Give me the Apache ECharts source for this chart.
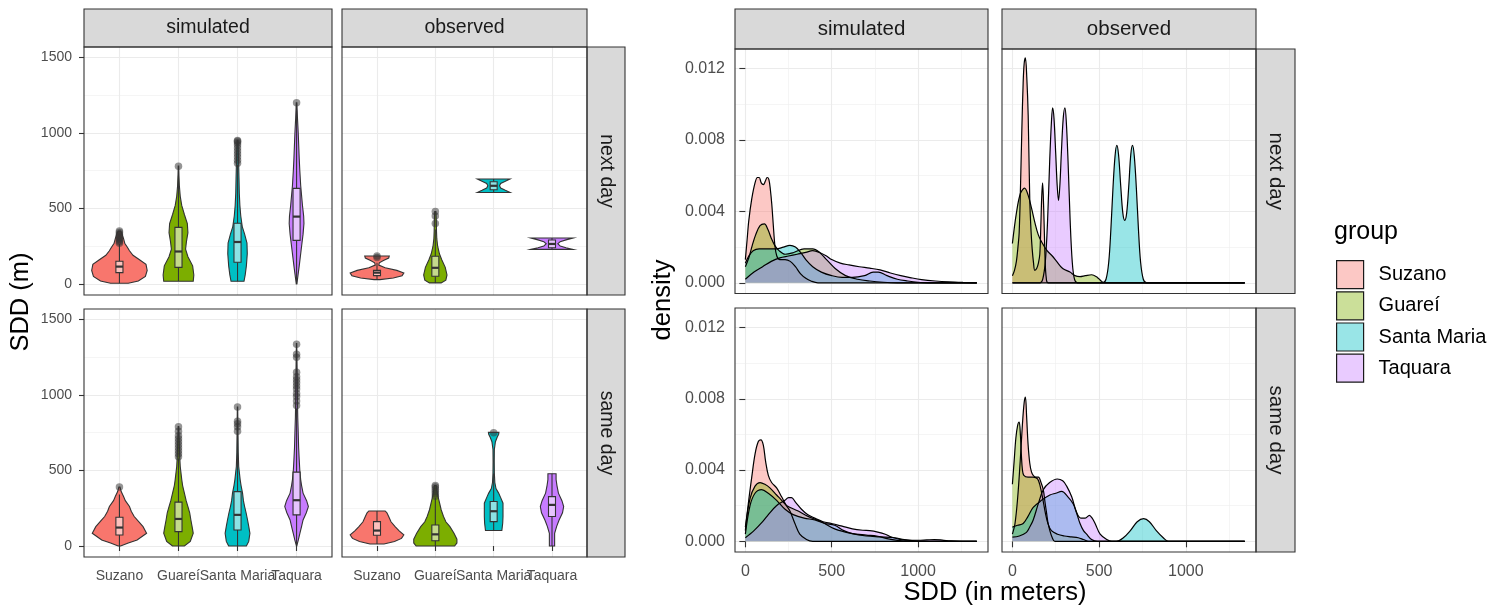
<!DOCTYPE html>
<html><head><meta charset="utf-8">
<script src="https://cdn.jsdelivr.net/npm/echarts@6/dist/echarts.min.js"></script>
<style>html,body{margin:0;padding:0;background:#fff}#c{width:1502px;height:612px}</style>
</head><body><div id="c"></div>
<script>
const FONT = '"Liberation Sans", Arial, Helvetica, sans-serif';

// ---------------- data ----------------
const groups = ['Suzano', 'Guareí', 'Santa Maria', 'Taquara'];
const catPos = [1, 2, 3, 4];
const catLabelsA = [1, 3];
const catLabelsB = [2, 4];
const violinYTicks = [0, 500, 1000, 1500];
const violinYMinor = [250, 750, 1250];
const densXTicks = [0, 500, 1000];
const densXMinor = [250, 750, 1250];
const densYTicks = [0, 0.004, 0.008, 0.012];
const densYMinor = [0.002, 0.006, 0.010];

// violin profiles: [SDD, half-width in category units], per group
const violinSimNext = [
  [[5,0.15],[20,0.32],[50,0.44],[90,0.47],[130,0.45],[160,0.34],[190,0.23],[220,0.17],[240,0.14],[270,0.09],[300,0.07],[330,0.045],[350,0.02]],
  [[18,0.25],[60,0.26],[120,0.24],[180,0.16],[230,0.12],[280,0.135],[340,0.16],[400,0.15],[460,0.1],[520,0.055],[580,0.03],[650,0.015],[720,0.008],[780,0.004]],
  [[18,0.11],[60,0.13],[120,0.15],[200,0.165],[270,0.16],[330,0.12],[380,0.08],[450,0.055],[520,0.04],[600,0.03],[700,0.025],[780,0.02],[860,0.015],[950,0.008]],
  [[0,0.005],[60,0.025],[120,0.045],[250,0.085],[330,0.11],[400,0.125],[450,0.12],[520,0.1],[650,0.07],[750,0.055],[830,0.045],[1000,0.028],[1100,0.015],[1200,0.005]]
];
const boxSimNext = [[5,75,115,150,265],[20,110,215,375,720],[18,144,278,402,790],[0,289,446,633,1150]];
const outSimNext = [[270,280,290,300,310,320,330,340,350],[780],[800,820,840,860,880,900,920,935,945,950],[1200]];

const violinObsNext = [
  [[29,0.05],[40,0.28],[55,0.43],[72,0.46],[90,0.34],[108,0.14],[125,0.03],[140,0.04],[155,0.11],[172,0.2],[185,0.21]],
  [[7,0.1],[25,0.18],[60,0.2],[110,0.17],[160,0.11],[200,0.07],[250,0.04],[300,0.025],[350,0.02],[400,0.018],[440,0.015],[480,0.01]],
  [[606,0.28],[620,0.2],[635,0.12],[650,0.1],[665,0.12],[680,0.2],[695,0.28]],
  [[229,0.36],[240,0.24],[252,0.14],[266,0.1],[280,0.14],[292,0.24],[304,0.36]]
];
const boxObsNext = [[29,55,75,90,140],[7,51,107,184,360],[606,624,650,677,695],[229,240,265,291,304]];
const outObsNext = [[175,185],[400,450,480],[],[]];

const violinSimSame = [
  [[0,0.02],[20,0.15],[40,0.3],[84,0.46],[128,0.4],[160,0.33],[195,0.25],[230,0.2],[261,0.17],[300,0.1],[327,0.07],[360,0.03],[390,0.01]],
  [[0,0.1],[30,0.2],[84,0.25],[130,0.23],[172,0.21],[220,0.19],[261,0.16],[300,0.13],[350,0.1],[400,0.07],[438,0.056],[526,0.03],[600,0.02],[700,0.012],[790,0.005]],
  [[0,0.15],[30,0.19],[84,0.21],[130,0.19],[172,0.17],[220,0.145],[261,0.12],[300,0.1],[350,0.085],[400,0.06],[438,0.045],[526,0.02],[620,0.012],[740,0.008],[820,0.006],[920,0.003]],
  [[0,0.003],[40,0.03],[84,0.056],[130,0.085],[172,0.11],[220,0.165],[261,0.2],[300,0.17],[350,0.11],[400,0.085],[438,0.07],[500,0.055],[570,0.045],[650,0.035],[750,0.028],[850,0.02],[970,0.015],[1100,0.012],[1200,0.008],[1340,0.003]]
];
const boxSimSame = [[0,73,122,190,340],[0,95,179,290,580],[0,106,206,360,740],[0,206,303,489,910]];
const outSimSame = [[390],[590,610,630,650,670,690,710,730,760,790],[760,790,810,825,920],[930,960,990,1010,1040,1060,1080,1100,1120,1150,1250,1270,1335]];

const violinObsSame = [
  [[13,0.12],[30,0.3],[50,0.42],[73,0.46],[100,0.38],[128,0.31],[160,0.24],[195,0.2],[220,0.17],[232,0.14]],
  [[0,0.33],[20,0.37],[45,0.37],[84,0.32],[128,0.25],[160,0.18],[195,0.14],[240,0.1],[305,0.06],[350,0.035],[400,0.015]],
  [[102,0.14],[150,0.155],[195,0.16],[240,0.16],[283,0.16],[320,0.12],[350,0.085],[380,0.04],[420,0.02],[480,0.012],[560,0.01],[640,0.012],[690,0.03],[720,0.06],[740,0.085],[752,0.09]],
  [[0,0.045],[84,0.045],[130,0.08],[170,0.12],[220,0.18],[261,0.2],[300,0.17],[350,0.11],[400,0.085],[440,0.07],[478,0.07]]
];
const boxObsSame = [[13,71,102,161,232],[0,35,77,139,320],[102,161,230,294,480],[0,195,272,327,478]];
const outObsSame = [[],[330,345,360,375,390,400],[750],[]];

// density curves: [SDD, density], per group
const densSimNext = [
  [[0,0.0013],[10,0.0024],[20,0.0035],[37,0.0047],[56,0.0056],[70,0.0059],[80,0.0059],[92,0.0056],[104,0.0055],[116,0.0057],[126,0.0059],[136,0.0058],[145,0.0052],[153,0.0044],[162,0.0032],[171,0.0021],[182,0.0015],[200,0.0013],[230,0.0013],[260,0.0012],[290,0.0009],[320,0.0005],[350,0.00025],[380,0.0001],[420,0],[1340,0]],
  [[0,0.0009],[20,0.0014],[40,0.0021],[60,0.0027],[85,0.0032],[110,0.0033],[130,0.003],[150,0.0025],[170,0.0021],[195,0.0018],[230,0.0016],[280,0.0017],[340,0.0019],[390,0.0019],[430,0.0017],[470,0.0013],[520,0.0008],[580,0.0004],[650,0.0002],[720,0.0001],[800,0.00003],[880,0],[1340,0]],
  [[0,0.0011],[20,0.0015],[45,0.0018],[80,0.0019],[130,0.0019],[180,0.0019],[220,0.002],[258,0.0021],[290,0.002],[320,0.0017],[350,0.0013],[390,0.0009],[440,0.0006],[500,0.0004],[560,0.0003],[620,0.0003],[690,0.0004],[740,0.0006],[770,0.0006],[820,0.0004],[880,0.0002],[940,0.0001],[1000,0.00003],[1060,0],[1340,0]],
  [[0,0.0002],[50,0.0006],[100,0.0009],[150,0.0012],[200,0.0014],[250,0.0015],[300,0.0016],[350,0.0017],[390,0.0018],[430,0.0017],[470,0.0015],[500,0.0013],[550,0.0011],[600,0.001],[660,0.0009],[720,0.00082],[780,0.00072],[840,0.00055],[900,0.0004],[960,0.00028],[1020,0.00018],[1100,0.0001],[1180,0.00005],[1260,0.00002],[1340,0]]
];
const densObsNext = [
  [[0,0.0004],[12,0.0007],[23,0.0012],[32,0.002],[39,0.0028],[47,0.0055],[54,0.0084],[62,0.0112],[68,0.0123],[75,0.0126],[83,0.0115],[91,0.0094],[100,0.0047],[107,0.003],[114,0.0019],[122,0.0011],[129,0.0007],[140,0.0008],[150,0.0011],[158,0.0016],[164,0.0032],[169,0.0048],[174,0.0056],[178,0.0049],[183,0.0033],[189,0.0012],[195,0.0003],[205,0],[1340,0]],
  [[0,0.0022],[23,0.0039],[46,0.005],[70,0.0053],[91,0.0049],[110,0.0042],[129,0.0034],[149,0.0027],[168,0.0023],[200,0.0018],[230,0.0015],[255,0.0012],[290,0.0008],[332,0.0006],[361,0.0004],[390,0.00035],[420,0.0004],[457,0.00045],[490,0.0003],[510,0.00012],[530,0],[1340,0]],
  [[0,0],[520,0],[540,0.0002],[556,0.0012],[568,0.003],[580,0.0053],[592,0.0071],[602,0.0077],[612,0.0072],[625,0.0054],[637,0.0039],[648,0.0035],[659,0.0039],[671,0.0054],[683,0.0072],[693,0.0077],[703,0.0071],[715,0.0053],[727,0.003],[739,0.0012],[755,0.0002],[775,0],[1340,0]],
  [[0,0],[160,0],[175,0.0002],[190,0.0012],[203,0.0035],[215,0.0068],[225,0.009],[232,0.0098],[240,0.0092],[250,0.0072],[258,0.0055],[266,0.0046],[274,0.0055],[282,0.0072],[293,0.0092],[303,0.0098],[311,0.009],[321,0.0068],[333,0.0035],[345,0.0012],[358,0.0002],[375,0],[1340,0]]
];
const densSimSame = [
  [[0,0.0006],[17,0.0021],[37,0.0036],[56,0.0049],[75,0.0056],[90,0.0057],[104,0.0054],[117,0.0045],[133,0.0037],[152,0.0033],[181,0.003],[210,0.0025],[238,0.002],[258,0.0017],[287,0.001],[315,0.0004],[354,0.0001],[390,0],[1340,0]],
  [[0,0.0008],[27,0.0024],[56,0.0031],[85,0.0033],[113,0.0032],[142,0.003],[181,0.0026],[210,0.0023],[240,0.002],[306,0.0017],[363,0.0014],[440,0.0011],[517,0.0007],[613,0.00045],[700,0.00035],[760,0.0003],[820,0.00015],[880,0.00005],[950,0],[1340,0]],
  [[0,0.0004],[27,0.002],[56,0.0027],[94,0.0029],[133,0.0027],[181,0.0023],[230,0.0018],[277,0.0015],[340,0.0013],[402,0.0012],[460,0.001],[517,0.0009],[570,0.0006],[613,0.00045],[700,0.0003],[780,0.00025],[863,0.0002],[920,0.0001],[980,0.00003],[1040,0],[1340,0]],
  [[0,0.0002],[50,0.0006],[100,0.0011],[133,0.0015],[180,0.002],[229,0.0023],[250,0.00245],[267,0.00245],[290,0.0022],[325,0.0018],[360,0.0015],[402,0.0013],[450,0.0011],[498,0.001],[560,0.00085],[620,0.0007],[680,0.00062],[720,0.0006],[767,0.00052],[810,0.0004],[845,0.00024],[900,0.0001],[960,0.00006],[1000,0.00006],[1050,0.00008],[1094,0.0001],[1140,0.00007],[1190,0.00002],[1250,0],[1340,0]]
];
const densObsSame = [
  [[0,0.0004],[15,0.001],[30,0.0024],[45,0.0045],[58,0.0066],[68,0.0078],[75,0.0081],[82,0.007],[90,0.0055],[100,0.0044],[110,0.0039],[120,0.0037],[135,0.0036],[150,0.0036],[165,0.0033],[178,0.0029],[188,0.0022],[197,0.0016],[206,0.001],[216,0.0006],[230,0.0002],[245,0],[1340,0]],
  [[0,0.0032],[10,0.0045],[20,0.0058],[30,0.0065],[39,0.0067],[46,0.006],[52,0.0048],[58,0.004],[66,0.0037],[90,0.0036],[120,0.0036],[145,0.0035],[160,0.0031],[175,0.0024],[190,0.0016],[205,0.001],[225,0.0006],[260,0.0004],[300,0.0003],[340,0.00025],[380,0.0002],[410,0.0001],[440,0],[1340,0]],
  [[0,0.0008],[30,0.0009],[62,0.001],[90,0.0014],[120,0.0019],[168,0.0023],[216,0.0026],[250,0.0027],[284,0.0028],[320,0.0025],[351,0.0021],[370,0.0016],[390,0.001],[410,0.0006],[428,0.0004],[457,0.0001],[490,0],[600,0],[640,0.0002],[680,0.0006],[720,0.0011],[757,0.00127],[790,0.0011],[830,0.0006],[870,0.0002],[900,0],[1340,0]],
  [[0,0.00024],[40,0.0003],[81,0.0005],[100,0.0008],[120,0.0012],[149,0.0021],[178,0.0029],[215,0.0033],[259,0.0035],[290,0.0034],[313,0.0031],[342,0.0025],[371,0.0016],[395,0.0013],[420,0.0013],[444,0.00146],[460,0.0013],[477,0.001],[506,0.0004],[544,0.0001],[573,0],[1340,0]]
];

// ---------------- styles / layout ----------------
const colors = ['#F8766D', '#7CAE00', '#00BFC4', '#C77CFF'];
const colorsA = ['rgba(248,118,109,0.4)', 'rgba(124,174,0,0.4)', 'rgba(0,191,196,0.4)', 'rgba(199,124,255,0.4)'];
const vRangeX = [0.4, 4.6], vRangeY = [-73, 1569];
const dRangeX = [-60, 1405], dRangeY = [-0.0006, 0.0131];

const grids = [], xAxes = [], yAxes = [], series = [], graphics = [];

function majorAxis(gi, range, vals, labelVals, show, fmt, fs, margin, tickLen, pos) {
  return {
    gridIndex: gi, type: 'value', min: range[0], max: range[1], position: pos, silent: true,
    axisLine: { show: false },
    axisTick: { show: show, customValues: vals, length: tickLen, lineStyle: { color: '#333', width: 1.1 } },
    axisLabel: { show: show, customValues: labelVals, formatter: fmt, margin: margin, fontSize: fs, color: '#4D4D4D',
      fontFamily: FONT, hideOverlap: false },
    splitLine: { show: true, lineStyle: { color: '#EBEBEB', width: 1.1 } }
  };
}
function minorAxis(gi, range, vals, pos) {
  return {
    gridIndex: gi, type: 'value', min: range[0], max: range[1], position: pos, silent: true,
    axisLine: { show: false },
    axisTick: { show: false, customValues: vals },
    axisLabel: { show: false },
    splitLine: { show: true, lineStyle: { color: '#EEEEEE', width: 0.6 } }
  };
}
function labelAxis(gi, range, labelVals, fmt, fs, margin) {
  return {
    gridIndex: gi, type: 'value', min: range[0], max: range[1], position: 'bottom', offset: 0, silent: true,
    axisLine: { show: false },
    axisTick: { show: false, customValues: labelVals },
    axisLabel: { show: true, customValues: labelVals, formatter: fmt, margin: margin, fontSize: fs, color: '#4D4D4D',
      fontFamily: FONT, hideOverlap: false },
    splitLine: { show: false }
  };
}
function addPanel(box, cfg) {
  const gi = grids.length;
  grids.push({ left: box[0], top: box[1], width: box[2], height: box[3] });
  const xi = xAxes.length;
  xAxes.push(majorAxis(gi, cfg.xr, cfg.xMaj, cfg.xLab || cfg.xMaj, cfg.showX, cfg.xFmt, cfg.fs, cfg.xMargin, cfg.tick, 'bottom'));
  if (cfg.xMin) xAxes.push(minorAxis(gi, cfg.xr, cfg.xMin, 'top'));
  if (cfg.xLab2 && cfg.showX) xAxes.push(labelAxis(gi, cfg.xr, cfg.xLab2, cfg.xFmt, cfg.fs, cfg.xMargin));
  const yi = yAxes.length;
  yAxes.push(majorAxis(gi, cfg.yr, cfg.yMaj, cfg.yMaj, cfg.showY, cfg.yFmt, cfg.fs, cfg.yMargin, cfg.tick, 'left'));
  if (cfg.yMin) yAxes.push(minorAxis(gi, cfg.yr, cfg.yMin, 'right'));
  graphics.push({ type: 'rect', shape: { x: box[0], y: box[1], width: box[2], height: box[3] },
    style: { fill: 'none', stroke: '#333', lineWidth: 1.1 }, z: 100, silent: true });
  return { xi, yi };
}

function makeViolin(prof, box, fill) {
  return function (params, api) {
    const c = api.value(0);
    const pts = [];
    for (let i = 0; i < prof.length; i++) pts.push(api.coord([c - prof[i][1], prof[i][0]]));
    for (let i = prof.length - 1; i >= 0; i--) pts.push(api.coord([c + prof[i][1], prof[i][0]]));
    const bw = 0.06;
    const a = api.coord([c - bw, box[3]]), b = api.coord([c + bw, box[1]]);
    const m1 = api.coord([c - bw, box[2]]), m2 = api.coord([c + bw, box[2]]);
    const w0 = api.coord([c, box[0]]), w1 = api.coord([c, box[1]]);
    const w3 = api.coord([c, box[3]]), w4 = api.coord([c, box[4]]);
    const ls = { stroke: '#333', lineWidth: 1.1 };
    return { type: 'group', children: [
      { type: 'polygon', shape: { points: pts }, style: { fill: fill, stroke: '#333', lineWidth: 1.1 } },
      { type: 'line', shape: { x1: w0[0], y1: w0[1], x2: w1[0], y2: w1[1] }, style: ls },
      { type: 'line', shape: { x1: w3[0], y1: w3[1], x2: w4[0], y2: w4[1] }, style: ls },
      { type: 'rect', shape: { x: a[0], y: a[1], width: b[0] - a[0], height: b[1] - a[1] },
        style: { fill: 'rgba(255,255,255,0.55)', stroke: '#333', lineWidth: 1.1 } },
      { type: 'line', shape: { x1: m1[0], y1: m1[1], x2: m2[0], y2: m2[1] }, style: { stroke: '#333', lineWidth: 2.2 } }
    ] };
  };
}

// violin panels
const vPanels = [
  { box: [84, 47, 248, 248], prof: violinSimNext, st: boxSimNext, out: outSimNext, sx: false, sy: true },
  { box: [342, 47, 245, 248], prof: violinObsNext, st: boxObsNext, out: outObsNext, sx: false, sy: false },
  { box: [84, 309, 248, 248], prof: violinSimSame, st: boxSimSame, out: outSimSame, sx: true, sy: true },
  { box: [342, 309, 245, 248], prof: violinObsSame, st: boxObsSame, out: outObsSame, sx: true, sy: false }
];
vPanels.forEach(p => {
  const ax = addPanel(p.box, {
    xr: vRangeX, yr: vRangeY, xMaj: catPos, xLab: catLabelsA, xLab2: catLabelsB, yMaj: violinYTicks, yMin: violinYMinor,
    showX: p.sx, showY: p.sy, fs: 14, xMargin: 12, yMargin: 12, tick: 5,
    xFmt: v => groups[Math.round(v) - 1], yFmt: v => String(v)
  });
  for (let g = 0; g < 4; g++) {
    series.push({ type: 'custom', xAxisIndex: ax.xi, yAxisIndex: ax.yi, silent: true,
      data: [[catPos[g], p.st[g][2]]], renderItem: makeViolin(p.prof[g], p.st[g], colors[g]) });
    series.push({ type: 'scatter', xAxisIndex: ax.xi, yAxisIndex: ax.yi, silent: true,
      data: p.out[g].map(v => [catPos[g], v]), symbol: 'circle', symbolSize: 7.5,
      itemStyle: { color: 'rgba(51,51,51,0.65)' } });
  }
});

// density panels
const dPanels = [
  { box: [735, 49, 253, 244.5], d: densSimNext, sx: false, sy: true },
  { box: [1002, 49, 254, 244.5], d: densObsNext, sx: false, sy: false },
  { box: [735, 308, 253, 244], d: densSimSame, sx: true, sy: true },
  { box: [1002, 308, 254, 244], d: densObsSame, sx: true, sy: false }
];
dPanels.forEach(p => {
  const ax = addPanel(p.box, {
    xr: dRangeX, yr: dRangeY, xMaj: densXTicks, xMin: densXMinor, yMaj: densYTicks, yMin: densYMinor,
    showX: p.sx, showY: p.sy, fs: 16, xMargin: 12, yMargin: 10, tick: 6,
    xFmt: v => String(v), yFmt: v => v.toFixed(3)
  });
  for (let g = 0; g < 4; g++) {
    series.push({ type: 'line', name: groups[g], xAxisIndex: ax.xi, yAxisIndex: ax.yi, silent: true,
      data: p.d[g], smooth: 0.35, symbol: 'none',
      lineStyle: { color: '#000', width: 1.2 },
      itemStyle: { color: colorsA[g] },
      areaStyle: { color: colorsA[g], opacity: 1 } });
  }
});

// strips
const strips = [
  [84, 9, 248, 38, 'simulated', 19.5, false], [342, 9, 245, 38, 'observed', 19.5, false],
  [587, 47, 38, 248, 'next day', 19.5, true], [587, 309, 38, 248, 'same day', 19.5, true],
  [735, 9, 253, 40, 'simulated', 20.5, false], [1002, 9, 254, 40, 'observed', 20.5, false],
  [1256, 49, 39, 244.5, 'next day', 20.5, true], [1256, 308, 39, 244, 'same day', 20.5, true]
];
strips.forEach(s => {
  graphics.push({ type: 'rect', shape: { x: s[0], y: s[1], width: s[2], height: s[3] },
    style: { fill: '#D9D9D9', stroke: '#333', lineWidth: 1.1 }, z: 90, silent: true });
  graphics.push({ type: 'text', x: s[0] + s[2] / 2, y: s[1] + s[3] / 2, rotation: s[6] ? -Math.PI / 2 : 0, z: 95, silent: true,
    style: { text: s[4], fontSize: s[5], fontFamily: FONT, fill: '#1A1A1A', align: 'center', verticalAlign: 'middle' } });
});
// axis titles + legend title
const titles = [
  ['SDD (m)', 21, 302, Math.PI / 2, 25.5, 'center'],
  ['density', 663, 300, Math.PI / 2, 25.5, 'center'],
  ['SDD (in meters)', 995, 593, 0, 25.5, 'center'],
  ['group', 1334, 232, 0, 25, 'left']
];
titles.forEach(t => {
  graphics.push({ type: 'text', x: t[1], y: t[2], rotation: t[3], z: 95, silent: true,
    style: { text: t[0], fontSize: t[4], fontFamily: FONT, fill: '#000', align: t[5], verticalAlign: 'middle' } });
});

const chart = echarts.init(document.getElementById('c'), null, { renderer: 'canvas' });
chart.setOption({
  animation: false,
  backgroundColor: '#fff',
  grid: grids, xAxis: xAxes, yAxis: yAxes, series: series,
  legend: {
    left: 1336, top: 260, padding: 0, orient: 'vertical', icon: 'rect', itemWidth: 27, itemHeight: 28, itemGap: 2,
    selectedMode: false,
    data: groups.map((g, i) => ({ name: g, itemStyle: { color: colorsA[i], borderColor: '#1A1A1A', borderWidth: 1.2 } })),
    textStyle: { fontSize: 20, color: '#000', fontFamily: FONT, padding: [0, 0, 0, 10] }
  },
  graphic: graphics
});
</script></body></html>
